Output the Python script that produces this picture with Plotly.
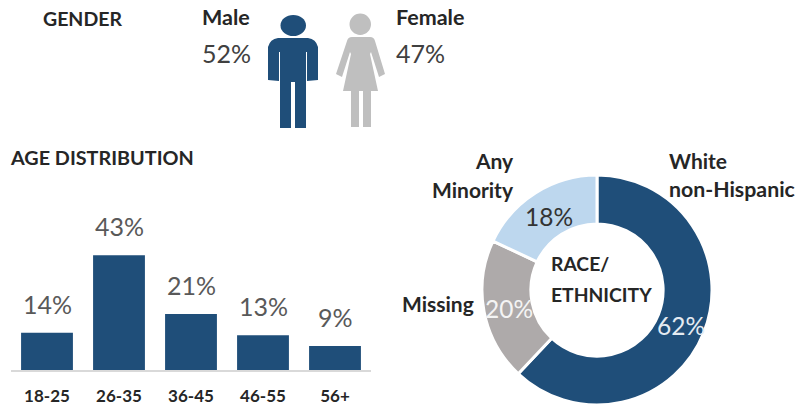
import math
import plotly.graph_objects as go

W, H = 806, 405
NAVY, GREY, TAUPE, SKY = "#1F4E79", "#BFBFBF", "#AEAAAA", "#BDD7EE"
FONT = "Lato"

age_groups = ["18-25", "26-35", "36-45", "46-55", "56+"]
age_values = [14, 43, 21, 13, 9]
race_groups = ["White non-Hispanic", "Missing", "Any Minority"]
race_values = [62, 20, 18]
race_text_colors = ["#E4EBF2", "#F4F4F4", "#333333"]
male_share = "52%"
female_share = "47%"

fig = go.Figure()
fig.add_trace(go.Bar(
    x=age_groups, y=age_values, xaxis="x", yaxis="y", width=0.72,
    marker=dict(color=NAVY, line=dict(width=0)),
    showlegend=False, hoverinfo="x+y",
))
fig.add_trace(go.Pie(
    labels=race_groups, values=race_values, hole=0.575, sort=False,
    direction="clockwise", rotation=0,
    domain=dict(x=[482 / W, 712 / W], y=[1 - 405 / H, 1 - 175 / H]),
    marker=dict(colors=[NAVY, TAUPE, SKY], line=dict(color="white", width=3)),
    textinfo="none", showlegend=False,
))
# invisible pixel-coordinate axes carry icons and free labels
fig.add_trace(go.Scatter(x=[0], y=[0], xaxis="x2", yaxis="y2", mode="markers",
                         marker=dict(opacity=0), showlegend=False, hoverinfo="skip"))

MAN = ("M 278 38 Q 270 39 268 47 L 268 80 L 279 81 L 279 52 L 280 52 L 280 128 "
       "L 291 128 L 291 82 L 295 82 L 295 128 L 306 128 L 306 52 L 307 52 L 307 81 "
       "L 318 80 L 318 47 Q 316 39 308 38 Z")
WOMAN = ("M 352 37 Q 348 37 347 41 L 336 74 L 342 77 L 350 52 L 351 54 L 343 91 "
         "L 351 91 L 351 127 L 359 127 L 359 91 L 363 91 L 363 127 L 371 127 L 371 91 "
         "L 378 91 L 370 54 L 371 52 L 379 77 L 385 74 L 375 41 Q 374 37 370 37 Z")
px = dict(xref="x2", yref="y2", layer="above", line=dict(width=0))
shapes = [
    dict(type="circle", x0=280.5, x1=306, y0=15, y1=36, fillcolor=NAVY, **px),
    dict(type="path", path=MAN, fillcolor=NAVY, **px),
    dict(type="circle", x0=349.5, x1=371, y0=13.5, y1=35, fillcolor=GREY, **px),
    dict(type="path", path=WOMAN, fillcolor=GREY, **px),
]

def label(x, y, text, size=21, bold=True, color="#262626", anchor="left"):
    return dict(xref="x2", yref="y2", x=x, y=y, text=f"<b>{text}</b>" if bold else text,
                showarrow=False, xanchor=anchor, yanchor="middle", align=anchor,
                font=dict(family=FONT, size=size, color=color))

annotations = [
    label(41, 18, "GENDER", 19.5),
    label(200, 17, "Male", 21.5),
    label(200, 53, male_share, 25, False, "#404040"),
    label(394, 17, "Female", 21.5),
    label(394, 53, female_share, 25, False, "#404040"),
    label(8, 157, "AGE DISTRIBUTION", 19.8),
    label(516, 160, "Any", anchor="right"),
    label(516, 189, "Minority", anchor="right"),
    label(667, 160, "White"),
    label(667, 189, "non-Hispanic", 21.3),
    label(400, 303, "Missing"),
    label(549, 263, "RACE/", 19.3),
    label(549, 294, "ETHNICITY", 19.3),
]

# bar value labels, raised above the bars
for group, value in zip(age_groups, age_values):
    annotations.append(dict(
        xref="x", yref="y", x=group, y=value, text=f"{value}%", showarrow=False,
        yanchor="bottom", yshift=12, font=dict(family=FONT, size=25, color="#595959")))

# percent labels sit mid-ring on each slice's bisector
cum = 0
total = sum(race_values)
for value, colour in zip(race_values, race_text_colors):
    theta = 2 * math.pi * (cum + value / 2) / total
    cum += value
    annotations.append(dict(
        xref="x2", yref="y2", x=597 + 90 * math.sin(theta), y=292 - 90 * math.cos(theta),
        text=f"{value}%", showarrow=False, font=dict(family=FONT, size=24.5, color=colour)))

fig.update_layout(
    width=W, height=H, margin=dict(l=0, r=0, t=0, b=0), autosize=False,
    paper_bgcolor="white", plot_bgcolor="rgba(0,0,0,0)", bargap=0.28,
    font=dict(family=FONT),
    xaxis=dict(domain=[11 / W, 371 / W], anchor="y", type="category", showgrid=False,
               ticks="", showline=True, linecolor="#D9D9D9", linewidth=1.5, zeroline=False,
               tickprefix="<b>", ticksuffix="</b>",
               tickfont=dict(family=FONT, size=17, color="#262626"), ticklabelstandoff=10),
    yaxis=dict(domain=[35 / H, 195 / H], anchor="x", range=[0, 60], visible=False),
    xaxis2=dict(domain=[0, 1], range=[0, W], visible=False, anchor="y2"),
    yaxis2=dict(domain=[0, 1], range=[H, 0], visible=False, anchor="x2"),
    shapes=shapes, annotations=annotations,
)
fig.write_html("out.html", config={"displayModeBar": False},
               post_script="document.body.style.margin='0';")
